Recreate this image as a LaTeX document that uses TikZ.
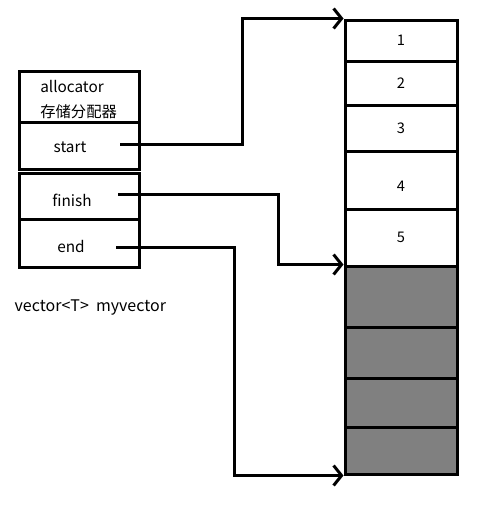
\documentclass[tikz,border=0pt]{standalone}
\usepackage{fontspec}
\setmainfont{Noto Sans CJK SC}
\usetikzlibrary{arrows.meta,positioning}
\definecolor{vcInk}{HTML}{000000}
\definecolor{vcUsed}{HTML}{808080}
\tikzset{
  vc field/.style={
    draw=vcInk,
    line width=2.25pt,
    minimum width=90pt,
    inner sep=0pt
  },
  vc slot/.style={
    draw=vcInk,
    line width=2.25pt,
    minimum width=84pt,
    inner sep=0pt,
    font=\fontsize{11}{14}\selectfont,
    text=vcInk
  },
  vc used/.style={vc slot, fill=vcUsed},
  vc pointer/.style={
    draw=vcInk,
    line width=2.25pt,
    -{Straight Barb[length=6pt,width=15pt,line width=2.25pt]}
  },
  vc text/.style={inner sep=0pt, font=\fontsize{11.5}{14}\selectfont, text=vcInk},
  vc label/.style={font=\fontsize{12}{14}\selectfont, text=vcInk}
}
\begin{document}
\begin{tikzpicture}[x=.75pt,y=-.75pt]
  \path[use as bounding box, fill=white] (0,0) rectangle (490,511);

  % allocator object
  \node[vc field, minimum height=38.25pt] (alloc) at (79,96.5) {};
  \node[vc field, minimum height=35.25pt] (start) at (79,145.5) {};
  \node[vc field, minimum height=34.5pt] (finish) at (79,196) {};
  \node[vc field, minimum height=36pt] (end) at (79,243) {};
  \node[vc text, anchor=west] (allocName) at (40,86) {allocator};
  \node[vc text, anchor=west] (allocCn) at (40,112) {存储分配器};
  \node[vc text] (startName) at (70,147) {start};
  \node[vc text] (finishName) at (72,200) {finish};
  \node[vc text] (endName) at (71,246) {end};
  \node[vc label, anchor=west] (name) at (10,308) {vector<T>~ myvector};

  % storage
  \node[vc slot, minimum height=30.75pt] (slot1) at (401,40.5) {1};
  \node[vc slot, minimum height=33pt] (slot2) at (401,83) {2};
  \node[vc slot, minimum height=34.5pt] (slot3) at (401,128) {3};
  \node[vc slot, minimum height=43.5pt, label={[vc slot, draw=none, yshift=-4.5pt]center:4}] (slot4) at (401,180) {};
  \node[vc slot, minimum height=42.75pt] (slot5) at (401,237.5) {5};
  \node[vc used, minimum height=45.75pt] (used1) at (401,296.5) {};
  \node[vc used, minimum height=38.25pt] (used2) at (401,352.5) {};
  \node[vc used, minimum height=36.75pt] (used3) at (401,402.5) {};
  \node[vc used, minimum height=35.25pt] (used4) at (401,450.5) {};

  \coordinate (startTail) at (120,144);
  \coordinate (finishTail) at (118,194);
  \coordinate (endTail) at (116,247);

  \draw[vc pointer] (startTail) -- ++(122,0) |- (slot1.north west);
  \draw[vc pointer] (finishTail) -- ++(160,0) |- (used1.north west);
  \draw[vc pointer] (endTail) -- ++(118,0) |- (used4.south west);
\end{tikzpicture}
\end{document}
